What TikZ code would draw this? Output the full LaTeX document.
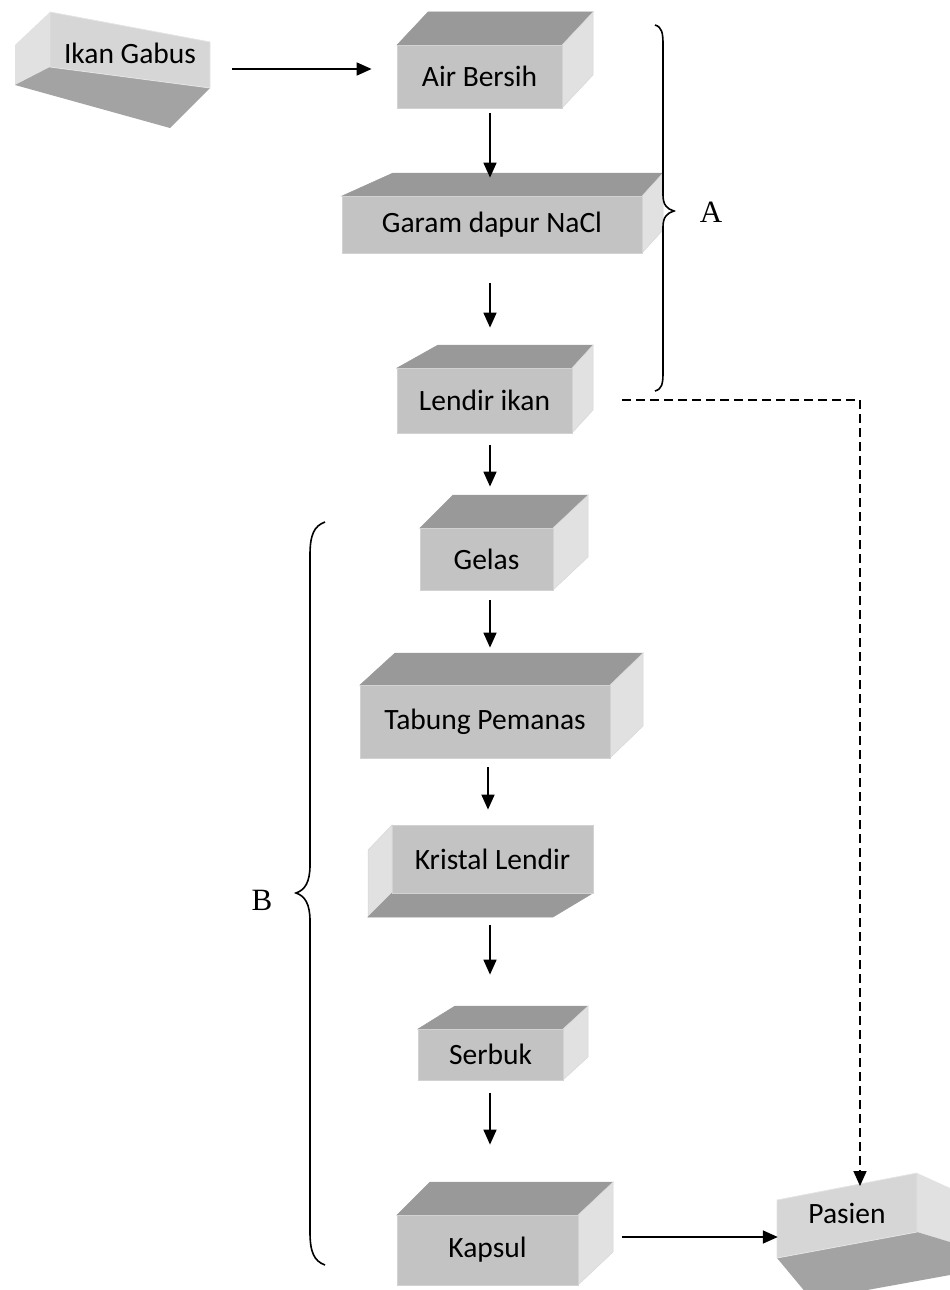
\documentclass[tikz,border=0pt]{standalone}
\usepackage{fontspec}
\newfontfamily\calfont{Carlito}
\newfontfamily\tmsfont{Liberation Serif}
\usetikzlibrary{arrows.meta,calc}
\definecolor{frontc}{HTML}{C3C3C3}
\definecolor{topc}{HTML}{999999}
\definecolor{sidec}{HTML}{E1E1E1}
\definecolor{frontl}{HTML}{D6D6D6}
\definecolor{darkc}{HTML}{A3A3A3}
\definecolor{edgec}{HTML}{D2D2D2}
\tikzset{
  facefront/.style={fill=frontc, draw=edgec, line width=0.8pt},
  facetop/.style={fill=topc, draw=topc, line width=0.5pt},
  faceside/.style={fill=sidec, draw=sidec!90!gray, line width=0.5pt},
  boxtext/.style={inner sep=0pt, font=\calfont\fontsize{29.5}{33}\selectfont},
  arr/.style={line width=1.7pt, -{Triangle[length=15pt,width=13pt]}},
  dasharr/.style={line width=1.7pt, dash pattern=on 9pt off 5pt, -{Triangle[length=15pt,width=13pt]}},
  bracestyle/.style={line width=1.6pt},
  lbl/.style={font=\tmsfont\fontsize{31}{35}\selectfont}
}
% name, fx1, fy1, fx2, fy2, bx1, bx2, by, text
\newcommand\stdbox[9]{%
  \draw[facetop] (#2,#3) -- (#4,#3) -- (#7,#8) -- (#6,#8) -- cycle;
  \draw[faceside] (#4,#3) -- (#7,#8) -- (#7,{#5-(#3-#8)}) -- (#4,#5) -- cycle;
  \node[boxtext, facefront, minimum width=#4pt-#2pt, minimum height=#5pt-#3pt] (#1) at ({(#2+#4)/2},{(#3+#5)/2}) {#9};
}
\begin{document}
\begin{tikzpicture}[x=1pt,y=-1pt]
\useasboundingbox (0,0) rectangle (950,1290);
\clip (0,0) rectangle (950,1290);
\coordinate (col) at (490,0);
\coordinate (col2) at (488,0);

% Ikan Gabus (tilted box)
\fill[sidec] (15,45) -- (50,12) -- (50,67) -- (15,85) -- cycle;
\fill[darkc] (15,85) -- (50,67) -- (210,88) -- (170,128) -- cycle;
\draw[fill=frontl, draw=edgec!60!white, line width=0.8pt] (50,12) -- (210,42) -- (210,88) -- (50,67) -- cycle;
\node[boxtext, minimum width=160pt] (ikan) at (130,53) {Ikan Gabus};

% standard boxes
\stdbox{airb}{397}{45}{562}{108}{428}{593}{12}{Air Bersih}
\stdbox{garam}{342}{196}{642}{253}{393}{663}{173}{Garam dapur NaCl}
\stdbox{lendir}{397}{368}{572}{433}{438}{593}{345}{Lendir ikan}
\stdbox{gelas}{420}{528}{553}{590}{453}{588}{495}{Gelas}
\stdbox{tabung}{360}{685}{610}{758}{395}{643}{653}{Tabung Pemanas}
\stdbox{serbuk}{418}{1029}{563}{1080}{455}{588}{1006}{Serbuk}
\stdbox{kapsul}{397}{1215}{578}{1285}{430}{613}{1182}{Kapsul}

% Kristal Lendir (mirrored box)
\draw[faceside] (368,850) -- (392,825) -- (392,893) -- (368,917) -- cycle;
\draw[facetop] (392,893) -- (593,893) -- (553,917) -- (368,917) -- cycle;
\node[boxtext, facefront, minimum width=201pt, minimum height=68pt] (kristal) at (492.5,859) {Kristal Lendir};

% Pasien (tilted box)
\fill[sidec] (917,1173) -- (950,1188) -- (950,1242) -- (917,1232) -- cycle;
\fill[darkc] (777,1258) -- (917,1232) -- (950,1242) -- (950,1275) -- (812,1300) -- cycle;
\draw[fill=frontl, draw=edgec!60!white, line width=0.8pt] (777,1200) -- (917,1173) -- (917,1232) -- (777,1258) -- cycle;
\node[boxtext, minimum width=140pt] (pasien) at (847,1213) {Pasien};

% arrows
\draw[arr] ($(ikan.east |- 0,69)+(22,0)$) -- ($(airb.west |- 0,69)+(-25,0)$);
\draw[arr] ($(col |- airb.south)+(0,5)$) -- ($(col |- garam.north)+(0,-18)$);
\draw[arr] ($(col |- garam.south)+(0,30)$) -- ($(col |- lendir.north)+(0,-40)$);
\draw[arr] ($(col |- lendir.south)+(0,12)$) -- ($(col |- gelas.north)+(0,-41)$);
\draw[arr] ($(col |- gelas.south)+(0,10)$) -- ($(col |- tabung.north)+(0,-37)$);
\draw[arr] ($(col2 |- tabung.south)+(0,9)$) -- ($(col2 |- kristal.north)+(0,-15)$);
\draw[arr] ($(col |- kristal.south)+(0,32)$) -- ($(col |- serbuk.north)+(0,-54)$);
\draw[arr] ($(col |- serbuk.south)+(0,13)$) -- ($(col |- kapsul.north)+(0,-70)$);
\draw[arr] ($(kapsul.east |- 0,1237)+(44,0)$) -- ($(pasien.west |- 0,1237)+(1,0)$);
\coordinate (dstart) at ($(lendir.east |- 0,400)+(50,0)$);
\coordinate (dturn) at (860,400);
\coordinate (dend) at (860,1186);
\draw[dasharr] (dstart) -- (dturn) -- (dend);

% brace A
\draw[bracestyle] (655,25) .. controls (662,27) and (663,33) .. (663,45)
  -- (663,195) .. controls (663,205) and (667,209) .. (674,211)
  .. controls (667,213) and (663,217) .. (663,227)
  -- (663,372) .. controls (663,384) and (662,389) .. (655,391);
\node[lbl] (labA) at (711,212) {A};

% brace B
\draw[bracestyle] (325,522) .. controls (314,526) and (310,535) .. (310,555)
  -- (310,865) .. controls (310,882) and (305,890) .. (296,893)
  .. controls (305,896) and (310,904) .. (310,921)
  -- (310,1232) .. controls (310,1252) and (314,1261) .. (325,1265);
\node[lbl] (labB) at (262,900) {B};
\end{tikzpicture}
\end{document}
